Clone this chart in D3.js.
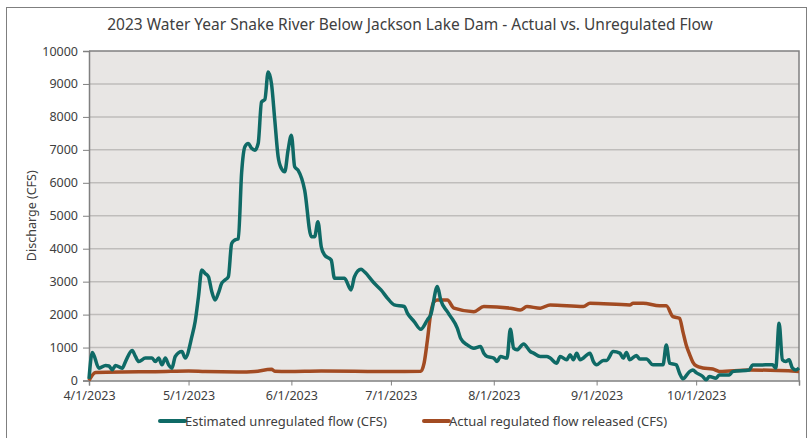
<!DOCTYPE html>
<html>
<head>
<meta charset="utf-8">
<title>Snake River flow</title>
<script src="https://cdn.jsdelivr.net/npm/d3@7"></script>
<style>
    body { margin: 0; background: #fff; }
    text { font-family: "Noto Sans", "Open Sans", sans-serif; fill: #404040; }
</style>
</head>
<body>
<script>

    // days counted from 4/1/2023, values in CFS
    var unregDays = [0, 1, 3, 5, 6, 7, 8, 10, 11, 13, 14, 15, 17, 19, 20, 21, 22, 23, 24, 25, 26, 28, 29,
        31, 32, 33, 34, 35, 36, 37, 38, 39, 40, 41, 42, 43, 44, 45, 46, 47, 48, 49, 50, 51, 52, 53, 54, 55,
        56, 57, 58, 59, 60, 61, 62, 63, 65, 67, 68, 69, 70, 71, 73, 74, 77, 79, 80, 82, 83, 86, 88, 90,
        92, 95, 96, 98, 100, 102, 103, 105, 106, 108, 109, 111, 112, 114, 116, 118, 119, 120, 122, 123,
        124, 126, 127, 128, 129, 131, 133, 134, 136, 138, 139, 141, 142, 144, 145, 146, 147, 148, 151,
        152, 153, 155, 156, 158, 160, 161, 162, 163, 165, 166, 168, 170, 173, 174, 175, 177, 178, 179,
        181, 182, 183, 185, 186, 187, 189, 190, 193, 194, 199, 200, 206, 207, 208, 209, 210, 211, 212,
        213, 214];
    var unregFlow = [50, 850, 375, 455, 440, 325, 455, 375, 575, 910, 730, 575, 680, 680, 575, 680, 475,
        680, 475, 375, 730, 880, 680,
        1330, 1790, 2545, 3355, 3250, 3150, 2700, 2445, 2650, 2950, 3050, 3150, 4160, 4265, 4300, 6300,
        7100, 7190, 7050, 6990, 7200, 8455, 8525, 9365, 9010,
        7900, 6800, 6435, 6335, 6990, 7445, 6485, 6385, 5780, 4365, 4365, 4820, 4060, 3810, 3655, 3100,
        3100, 2750, 3150, 3375, 3300, 2950, 2750, 2495,
        2295, 2245, 2040, 1790, 1555, 1840, 1990, 2850, 2445, 2090, 1940, 1590, 1285, 1080, 980, 1030,
        830, 730, 680, 575,
        730, 680, 1555, 980, 930, 1110, 880, 830, 730, 730, 680, 525, 730, 630, 780, 630, 830, 630, 830,
        580, 475, 610, 610, 880, 830, 680, 850, 630, 760, 650, 650, 475, 475, 1080, 525, 475, 220, 50,
        270, 320, 240, 120, 20, 120, 70, 170, 170, 270, 320, 470, 475, 380, 1740, 630, 575, 630, 380,
        320, 380];

    var regDays = [0, 2, 10, 20, 30, 35, 45, 50, 55, 56, 60, 70, 80, 90, 100, 101, 102, 103, 104, 105,
        108, 110, 116, 119, 127, 130, 132, 136, 139, 149, 151, 163, 164, 167, 172, 174, 176, 178, 179,
        180, 181, 182, 183, 185, 188, 190, 199, 214];
    var regFlow = [0, 245, 260, 265, 290, 270, 255, 275, 340, 280, 270, 285, 280, 270, 280, 525, 1225,
        2040, 2395, 2440, 2445, 2195, 2090, 2245, 2195, 2140, 2245, 2195, 2295, 2245, 2345, 2295, 2345,
        2345, 2270, 2270, 1940, 1890, 1485, 1080, 800, 560, 445, 380, 350, 275, 320, 275];

    var yTicks = [0, 1000, 2000, 3000, 4000, 5000, 6000, 7000, 8000, 9000, 10000];
    var xTickDates = ["2023-04-01", "2023-05-01", "2023-06-01", "2023-07-01", "2023-08-01",
        "2023-09-01", "2023-10-01", "2023-11-01"];
    var xTickLabels = ["4/1/2023", "5/1/2023", "6/1/2023", "7/1/2023", "8/1/2023", "9/1/2023",
        "10/1/2023", ""];

    var seriesNames = ["Estimated unregulated flow (CFS)", "Actual regulated flow released (CFS)"];
    var seriesColors = ["#0f6a66", "#a24b22"];

    var width = 809,
        height = 438;

    var margin = {left: 89, right: 10, top: 51, bottom: 58};
    var plotRight = 799, plotBottom = 380.5;

    var start = new Date(2023, 3, 1);
    function dayToDate(d) {
        return d3.timeDay.offset(start, d);
    }

    var svg = d3.select("body")
        .append("svg")
        .attr("width", width)
        .attr("height", height);

    // outer chart border
    svg.append("rect")
        .attr("x", 6.5).attr("y", 7.5)
        .attr("width", 800).attr("height", 460)
        .attr("fill", "none")
        .attr("stroke", "#7f7f7f")
        .attr("stroke-width", 1);

    var x = d3.scaleTime()
        .domain([start, new Date(2023, 10, 1)])
        .range([margin.left, plotRight]);

    var y = d3.scaleLinear()
        .domain([0, 10000])
        .range([plotBottom, margin.top]);

    // plot background
    svg.append("rect")
        .attr("x", margin.left).attr("y", margin.top)
        .attr("width", plotRight - margin.left).attr("height", plotBottom - margin.top)
        .attr("fill", "#e8e6e4");

    // gridlines
    svg.append("g")
        .selectAll("line")
        .data(yTicks.slice(1, -1))
        .enter()
        .append("line")
        .attr("x1", margin.left).attr("x2", plotRight)
        .attr("y1", function (d) { return y(d); })
        .attr("y2", function (d) { return y(d); })
        .attr("stroke", "#bfbdbb")
        .attr("stroke-width", 1.5);

    // top and right frame of plot
    svg.append("path")
        .attr("d", "M" + margin.left + "," + (margin.top) + "H" + plotRight + "V" + plotBottom)
        .attr("fill", "none")
        .attr("stroke", "#808080")
        .attr("stroke-width", 1.5);

    // y axis
    var yAxis = svg.append("g")
        .attr("transform", "translate(" + margin.left + ",0)")
        .call(d3.axisLeft(y).tickValues(yTicks).tickSize(6).tickPadding(5).tickFormat(d3.format("d")));
    yAxis.select(".domain").attr("stroke", "#808080").attr("stroke-width", 1.5);
    yAxis.selectAll(".tick line").attr("stroke", "#808080");
    yAxis.selectAll("text").style("font-size", "12.5px").attr("fill", "#404040")
        .style("font-family", "Noto Sans");

    // x axis
    var xAxis = svg.append("g")
        .attr("transform", "translate(0," + plotBottom + ")")
        .call(d3.axisBottom(x)
            .tickValues(xTickDates.map(function (s) { return d3.timeParse("%Y-%m-%d")(s); }))
            .tickSize(5).tickPadding(6)
            .tickFormat(function (d, i) { return xTickLabels[i]; }));
    xAxis.select(".domain").attr("stroke", "#808080").attr("stroke-width", 1.5);
    xAxis.selectAll(".tick line").attr("stroke", "#808080");
    xAxis.selectAll("text").style("font-size", "12.5px").attr("fill", "#404040")
        .style("font-family", "Noto Sans");

    var line = d3.line()
        .x(function (d) { return x(dayToDate(d[0])); })
        .y(function (d) { return y(d[1]); })
        .curve(d3.curveMonotoneX);

    var regData = d3.zip(regDays, regFlow);
    var unregData = d3.zip(unregDays, unregFlow);

    svg.append("path")
        .datum(regData)
        .attr("d", line)
        .attr("fill", "none")
        .attr("stroke", seriesColors[1])
        .attr("stroke-width", 3.5)
        .attr("stroke-linejoin", "round");

    svg.append("path")
        .datum(unregData)
        .attr("d", line)
        .attr("fill", "none")
        .attr("stroke", seriesColors[0])
        .attr("stroke-width", 3.5)
        .attr("stroke-linejoin", "round");

    // title
    svg.append("text")
        .attr("x", 410).attr("y", 30)
        .attr("text-anchor", "middle")
        .style("font-size", "15.5px")
        .text("2023 Water Year Snake River Below Jackson Lake Dam - Actual vs. Unregulated Flow");

    // y title
    svg.append("text")
        .attr("transform", "translate(36," + ((margin.top + plotBottom) / 2) + ") rotate(-90)")
        .attr("text-anchor", "middle")
        .style("font-size", "12.5px")
        .text("Discharge (CFS)");

    // legend
    var legendX = [160, 424];
    var legend = svg.append("g");
    legend.selectAll("line")
        .data(seriesNames)
        .enter()
        .append("line")
        .attr("x1", function (d, i) { return legendX[i]; })
        .attr("x2", function (d, i) { return legendX[i] + 25; })
        .attr("y1", 421).attr("y2", 421)
        .attr("stroke", function (d, i) { return seriesColors[i]; })
        .attr("stroke-width", 4)
        .attr("stroke-linecap", "round");
    legend.selectAll("text")
        .data(seriesNames)
        .enter()
        .append("text")
        .attr("x", function (d, i) { return legendX[i] + 25; })
        .attr("y", 425.5)
        .style("font-size", "13px")
        .text(function (d) { return d; });

</script>
</body>
</html>
